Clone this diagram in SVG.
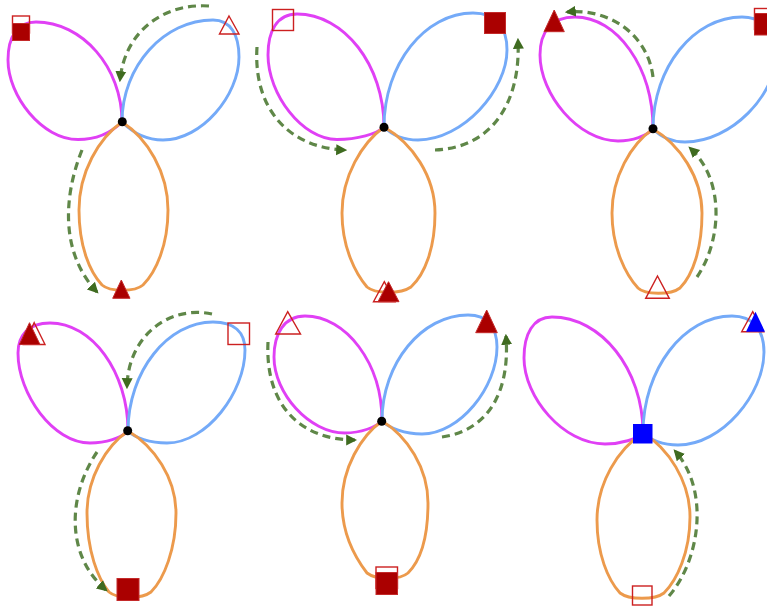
<svg xmlns="http://www.w3.org/2000/svg" width="767" height="606" viewBox="0 0 767 606">
<defs>
<style>
.m{fill:none;stroke:#e040f5;stroke-width:2.9}
.b{fill:none;stroke:#74aaf8;stroke-width:2.9}
.o{fill:none;stroke:#ec9a4c;stroke-width:2.9}
.arr{fill:none;stroke:#5f8748;stroke-width:3.2;stroke-dasharray:8 5}
.fs{fill:#aa0000;stroke:#c42a2a;stroke-width:1}
.os{fill:none;stroke:#cc2020;stroke-width:1.4}
.dot{fill:#000}
.bl{fill:#0000ff}
</style>
<marker id="ah" viewBox="0 0 10 10" refX="8" refY="5" markerWidth="11" markerHeight="12" markerUnits="userSpaceOnUse" orient="auto">
<path d="M0,0 L10,5 L0,10 Z" fill="#3f6b20"/>
</marker>
</defs>
<rect width="767" height="606" fill="#fff"/>

<g id="panel1">
<path class="m" d="M122,122 C122,67 82,22 36,22 C17,22 8,37 8,60 C8,96 42,139.5 78,139.5 C97,139.5 112,132 122,122 Z"/>
<path class="b" d="M122,122 C122,66 164,20 213,20 C230.7,20 239,35 239,57 C239,95 202,140 163,140 C145,140 132,132 122,122 Z"/>
<path class="o" d="M122,122 C99,138 79,172 79,210 C79,247 90,272 102,285 C110,292 135,292 143,285 C156,272 168,245 168,210 C168,172 147,138 122,122 Z"/>
</g>
<g id="panel2">
<path class="m" d="M384,127 C384,65 344,14 297,14 C277,14 268,31 268,55 C268,94 302,139.5 337,139.5 C357,139.5 377,134 384,127 Z"/>
<path class="b" d="M384,127 C384,64 425,13 473,13 C496,13 507,27 507,50 C507,90 463,140 418,140 C403,140 391,134 384,127 Z"/>
<path class="o" d="M384,127 C362,143 342,176 342,213 C342,248 356,274 367,287 C375,294 401,294 411,287 C425,274 435,248 435,213 C435,176 412,143 384,127 Z"/>
</g>
<g id="panel3">
<path class="m" d="M653,129 C653,67 617,17 575,17 C551,17 540,32 540,55 C540,94 578,141 618,141 C633,141 646,136 653,129 Z"/>
<path class="b" d="M653,129 C653,67 694,17 742,17 C765,17 776,33 776,55 C776,94 732,142 685,142 C671,142 660,136 653,129 Z"/>
<path class="o" d="M653,129 C631,144 612,177 612,213 C612,248 626,275 638,288 C645,295 671,295 680,288 C693,275 702,248 702,213 C702,177 679,144 653,129 Z"/>
</g>
<g id="panel4">
<path class="m" d="M128,431 C128,372 92,323 50,323 C28,323 18,336 18,353 C18,394 53,443 90,443 C106,443 121,438 128,431 Z"/>
<path class="b" d="M128,431 C128,371 168,322 213,322 C235,322 245,333 245,350 C245,392 207,443 167,443 C150,443 135,438 128,431 Z"/>
<path class="o" d="M128,431 C106,446 87,478 87,513 C87,551 98,579 109,592 C117,599 142,599 151,592 C164,579 176,549 176,513 C176,478 154,446 128,431 Z"/>
</g>
<g id="panel5">
<path class="m" d="M382,421 C382,363 346,316 305,316 C284,316 274,334 274,357 C274,393 309,433 345,433 C361,433 376,427 382,421 Z"/>
<path class="b" d="M382,421 C382,363 422,315 468,315 C488,315 497,328 497,347 C497,387 460,434 422,434 C405,434 389,428 382,421 Z"/>
<path class="o" d="M382,421 C361,436 342,468 342,503 C342,535 357,560 367,573 C376,580 400,580 408,573 C421,560 428,535 428,503 C428,468 407,436 382,421 Z"/>
</g>
<g id="panel6">
<path class="m" d="M643,433 C643,369 601,317 552,317 C533,317 524,334 524,358 C524,397 563,444 605,444 C621,444 637,439 643,433 Z"/>
<path class="b" d="M643,433 C643,369 684,316 732,316 C753,316 764,330 764,352 C764,394 722,445 678,445 C663,445 650,440 643,433 Z"/>
<path class="o" d="M643,433 C618,449 597,483 597,520 C597,554 608,580 620,593 C629,600 655,600 664,593 C677,580 690,552 690,517 C690,481 668,448 643,433 Z"/>
</g>

<g id="connectors">
<path class="arr" marker-end="url(#ah)" d="M209,6 C165,3 125,30 120,80"/>
<path class="arr" marker-end="url(#ah)" d="M82,150 C62,200 62,255 97,292"/>
<path class="arr" marker-end="url(#ah)" d="M257,47 C253,110 290,148 345,150"/>
<path class="arr" marker-end="url(#ah)" d="M435,150 C490,148 521,105 518,40"/>
<path class="arr" marker-end="url(#ah)" d="M653,77 C648,35 610,8 567,12"/>
<path class="arr" marker-end="url(#ah)" d="M697,277 C722,240 725,180 690,148"/>
<path class="arr" marker-end="url(#ah)" d="M212,314 C170,305 128,335 127,387"/>
<path class="arr" marker-end="url(#ah)" d="M97,452 C68,495 65,555 106,590"/>
<path class="arr" marker-end="url(#ah)" d="M268,342 C265,405 300,440 355,440"/>
<path class="arr" marker-end="url(#ah)" d="M442,437 C490,430 510,390 506,336"/>
<path class="arr" marker-end="url(#ah)" d="M669,596 C700,560 710,490 675,451"/>
</g>

<g id="markers1">
<rect class="os" x="12.5" y="16" width="17" height="17"/>
<rect class="fs" x="12.5" y="23.5" width="17" height="17"/>
<polygon class="os" points="229,16 239,34 219.5,34"/>
<polygon class="fs" points="121.3,280 130,298.3 112.7,298.3"/>
<circle class="dot" cx="122.3" cy="121.7" r="4.5"/>
</g>
<g id="markers2">
<rect class="os" x="272.5" y="9.5" width="21" height="21"/>
<rect class="fs" x="484.5" y="12.5" width="21" height="21"/>
<polygon class="os" points="384.3,281.7 395,301.7 373.5,301.7"/>
<polygon class="fs" points="388.5,281.7 399,301.7 378,301.7"/>
<circle class="dot" cx="384" cy="127.3" r="4.5"/>
</g>
<g id="markers3">
<polygon class="fs" points="554.2,10 564.3,31.7 544,31.7"/>
<polygon class="os" points="657.5,276 669.3,298.3 645.7,298.3"/>
<rect class="os" x="754.5" y="8.5" width="21" height="21"/>
<rect class="fs" x="754.5" y="13.5" width="21" height="21.5"/>
<circle class="dot" cx="653" cy="128.7" r="4.5"/>
</g>
<g id="markers4">
<polygon class="os" points="34.2,322.7 45,344.5 23.5,344.5"/>
<polygon class="fs" points="29.5,322.7 40,344.5 19.3,344.5"/>
<rect class="os" x="228" y="323" width="21.5" height="21.5"/>
<rect class="fs" x="117" y="578.5" width="22" height="22"/>
<circle class="dot" cx="127.7" cy="430.7" r="4.5"/>
</g>
<g id="markers5">
<polygon class="os" points="287.7,311.7 300.5,334 275.7,334"/>
<polygon class="fs" points="486.7,310 497.3,332.7 475.7,332.7"/>
<rect class="os" x="376" y="567" width="21.5" height="21.5"/>
<rect class="fs" x="376" y="572.5" width="21.5" height="22"/>
<circle class="dot" cx="381.7" cy="421.3" r="4.5"/>
</g>
<g id="markers6">
<rect class="bl" x="633" y="424" width="19.5" height="19.5"/>
<polygon class="os" points="752.7,311.7 763.7,331.7 741.7,331.7"/>
<polygon class="bl" points="755.5,311.7 765,331.7 746,331.7"/>
<rect class="os" x="632.5" y="586" width="19.5" height="19"/>
</g>
</svg>
